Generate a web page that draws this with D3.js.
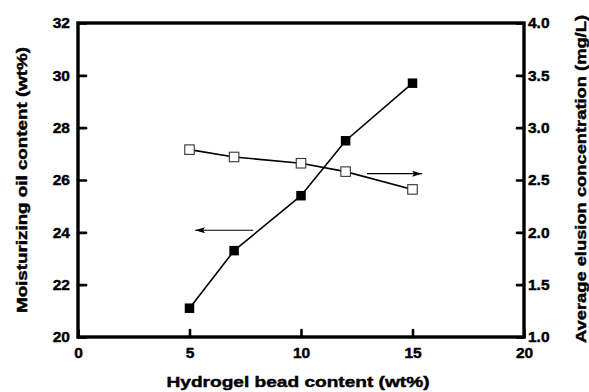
<!DOCTYPE html>
<html>
<head>
<meta charset="utf-8">
<script src="https://cdn.jsdelivr.net/npm/d3@7"></script>
<style>
  body { margin: 0; background: #fff; }
  text { font-family: "Liberation Sans", Arial, sans-serif; font-weight: bold;
         stroke: #000; stroke-width: 0.45px; fill: #000; }
</style>
</head>
<body>
<svg id="graph1"></svg>
<script>
// data
var beadContent = [5, 7, 10, 12, 15]
var oilContent = [21.1, 23.3, 25.4, 27.5, 29.7]
var elusionConc = [2.79, 2.72, 2.66, 2.58, 2.41]

var xTicks = [0, 5, 10, 15, 20]
var yLeftTicks = [20, 22, 24, 26, 28, 30, 32]
var yRightTicks = [1.0, 1.5, 2.0, 2.5, 3.0, 3.5, 4.0]

// arrows pointing to the axis each series belongs to
var leftArrow = {x1: 7.85, x2: 5.25, y: 24.08}
var rightArrow = {x1: 12.96, x2: 15.43, y: 2.56}

var screen = {width: 589, height: 392}
var margins = {top: 23, bottom: 55, left: 78, right: 65}

var width = screen.width - margins.left - margins.right
var height = screen.height - margins.top - margins.bottom

var svg = d3.select("#graph1")
    .attr("width", screen.width)
    .attr("height", screen.height)

var defs = svg.append("defs")
defs.append("marker")
    .attr("id", "head")
    .attr("viewBox", "0 0 10 6")
    .attr("refX", 10).attr("refY", 3)
    .attr("markerWidth", 10).attr("markerHeight", 6)
    .attr("markerUnits", "userSpaceOnUse")
    .attr("orient", "auto")
    .append("path")
    .attr("d", "M0,0 L10,3 L0,6 L2,3 Z")
    .attr("fill", "#000")

var g = svg.append("g")
    .attr("transform", "translate(" + margins.left + "," + margins.top + ")")

var xScale = d3.scaleLinear().domain([0, 20]).range([0, width])
var yLeft = d3.scaleLinear().domain([20, 32]).range([height, 0])
var yRight = d3.scaleLinear().domain([1, 4]).range([height, 0])

var tickStyle = function(sel) {
    sel.select(".domain").remove()
    sel.selectAll(".tick line").attr("stroke", "#000").attr("stroke-width", 2.6)
        .attr("stroke-linecap", "round")
    sel.selectAll(".tick text").style("font-size", "15.5px")
}

// bottom axis, ticks pointing up into the plot
var xAxis = d3.axisBottom(xScale).tickValues(xTicks).tickSize(-7).tickPadding(10)
g.append("g").attr("transform", "translate(0," + height + ")").call(xAxis).call(tickStyle)

var yAxisL = d3.axisLeft(yLeft).tickValues(yLeftTicks).tickSize(-8).tickPadding(8)
    .tickFormat(d3.format("d"))
g.append("g").call(yAxisL).call(tickStyle)

var yAxisR = d3.axisRight(yRight).tickValues(yRightTicks).tickSize(-7).tickPadding(4)
    .tickFormat(d3.format(".1f"))
g.append("g").attr("transform", "translate(" + width + ",0)").call(yAxisR).call(tickStyle)

// frame
g.append("rect")
    .attr("x", 0).attr("y", 0)
    .attr("width", width).attr("height", height)
    .attr("fill", "none")
    .attr("stroke", "#000")
    .attr("stroke-width", 3.4)

// lines
var lineL = d3.line()
    .x(function(d, i) { return xScale(beadContent[i]) })
    .y(function(d) { return yLeft(d) })
var lineR = d3.line()
    .x(function(d, i) { return xScale(beadContent[i]) })
    .y(function(d) { return yRight(d) })

g.append("path").datum(elusionConc).attr("d", lineR)
    .attr("fill", "none").attr("stroke", "#000").attr("stroke-width", 1.6)
g.append("path").datum(oilContent).attr("d", lineL)
    .attr("fill", "none").attr("stroke", "#000").attr("stroke-width", 1.6)

var sq = 9.5
g.selectAll(".open").data(elusionConc).enter().append("rect")
    .attr("x", function(d, i) { return xScale(beadContent[i]) - sq / 2 })
    .attr("y", function(d) { return yRight(d) - sq / 2 })
    .attr("width", sq).attr("height", sq)
    .attr("fill", "#fff").attr("stroke", "#333").attr("stroke-width", 1.1)

g.selectAll(".filled").data(oilContent).enter().append("rect")
    .attr("x", function(d, i) { return xScale(beadContent[i]) - sq / 2 })
    .attr("y", function(d) { return yLeft(d) - sq / 2 })
    .attr("width", sq).attr("height", sq)
    .attr("fill", "#000")

// arrows
g.append("line")
    .attr("x1", xScale(leftArrow.x1)).attr("x2", xScale(leftArrow.x2))
    .attr("y1", yLeft(leftArrow.y)).attr("y2", yLeft(leftArrow.y))
    .attr("stroke", "#000").attr("stroke-width", 1.2)
    .attr("marker-end", "url(#head)")
g.append("line")
    .attr("x1", xScale(rightArrow.x1)).attr("x2", xScale(rightArrow.x2))
    .attr("y1", yRight(rightArrow.y)).attr("y2", yRight(rightArrow.y))
    .attr("stroke", "#000").attr("stroke-width", 1.2)
    .attr("marker-end", "url(#head)")

// axis titles
svg.append("text")
    .attr("x", 298).attr("y", 387)
    .attr("text-anchor", "middle")
    .attr("textLength", 263).attr("lengthAdjust", "spacingAndGlyphs")
    .style("font-size", "15.5px")
    .text("Hydrogel bead content (wt%)")

svg.append("text")
    .attr("transform", "translate(27,180) rotate(-90)")
    .attr("text-anchor", "middle")
    .attr("textLength", 266).attr("lengthAdjust", "spacingAndGlyphs")
    .style("font-size", "15.5px")
    .text("Moisturizing oil content (wt%)")

svg.append("text")
    .attr("transform", "translate(586,179) rotate(-90)")
    .attr("text-anchor", "middle")
    .attr("textLength", 328).attr("lengthAdjust", "spacingAndGlyphs")
    .style("font-size", "15.5px")
    .text("Average elusion concentration (mg/L)")
</script>
</body>
</html>
